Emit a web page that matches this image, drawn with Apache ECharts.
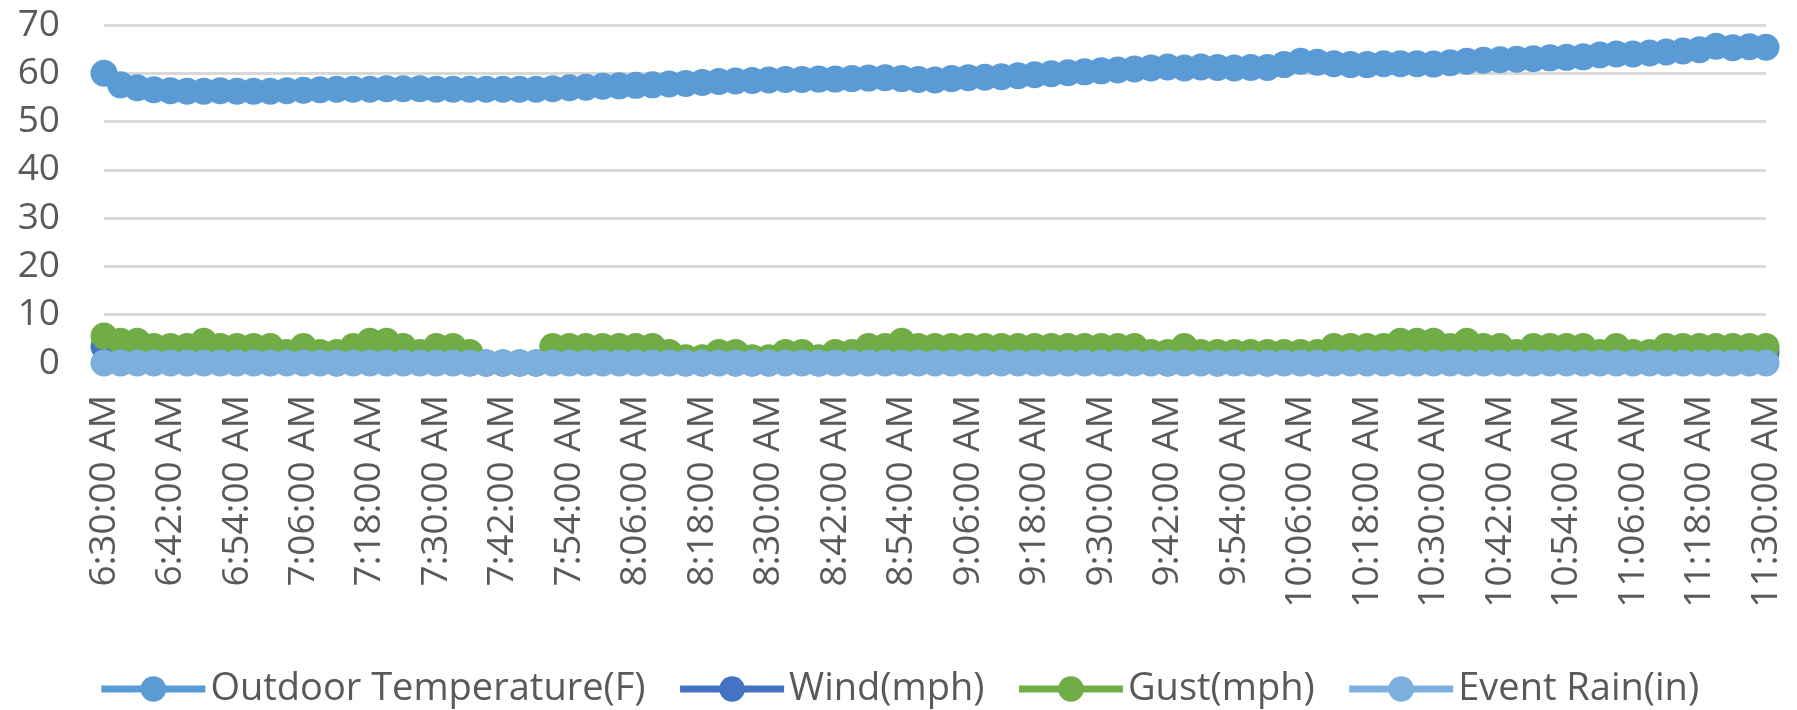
<!DOCTYPE html>
<html>
<head>
<meta charset="utf-8">
<script src="https://cdn.jsdelivr.net/npm/echarts@6/dist/echarts.min.js"></script>
<style>
html,body{margin:0;padding:0;background:#fff;}
#chart{width:1797px;height:710px;}
</style>
</head>
<body>
<div id="chart"></div>
<script>
const times = [
'6:30:00 AM','6:33:00 AM','6:36:00 AM','6:39:00 AM','6:42:00 AM','6:45:00 AM','6:48:00 AM','6:51:00 AM','6:54:00 AM','6:57:00 AM',
'7:00:00 AM','7:03:00 AM','7:06:00 AM','7:09:00 AM','7:12:00 AM','7:15:00 AM','7:18:00 AM','7:21:00 AM','7:24:00 AM','7:27:00 AM',
'7:30:00 AM','7:33:00 AM','7:36:00 AM','7:39:00 AM','7:42:00 AM','7:45:00 AM','7:48:00 AM','7:51:00 AM','7:54:00 AM','7:57:00 AM',
'8:00:00 AM','8:03:00 AM','8:06:00 AM','8:09:00 AM','8:12:00 AM','8:15:00 AM','8:18:00 AM','8:21:00 AM','8:24:00 AM','8:27:00 AM',
'8:30:00 AM','8:33:00 AM','8:36:00 AM','8:39:00 AM','8:42:00 AM','8:45:00 AM','8:48:00 AM','8:51:00 AM','8:54:00 AM','8:57:00 AM',
'9:00:00 AM','9:03:00 AM','9:06:00 AM','9:09:00 AM','9:12:00 AM','9:15:00 AM','9:18:00 AM','9:21:00 AM','9:24:00 AM','9:27:00 AM',
'9:30:00 AM','9:33:00 AM','9:36:00 AM','9:39:00 AM','9:42:00 AM','9:45:00 AM','9:48:00 AM','9:51:00 AM','9:54:00 AM','9:57:00 AM',
'10:00:00 AM','10:03:00 AM','10:06:00 AM','10:09:00 AM','10:12:00 AM','10:15:00 AM','10:18:00 AM','10:21:00 AM','10:24:00 AM','10:27:00 AM',
'10:30:00 AM','10:33:00 AM','10:36:00 AM','10:39:00 AM','10:42:00 AM','10:45:00 AM','10:48:00 AM','10:51:00 AM','10:54:00 AM','10:57:00 AM',
'11:00:00 AM','11:03:00 AM','11:06:00 AM','11:09:00 AM','11:12:00 AM','11:15:00 AM','11:18:00 AM','11:21:00 AM','11:24:00 AM','11:27:00 AM',
'11:30:00 AM'
];

const temperature = [
60.0,57.6,57.0,56.6,56.4,56.3,56.3,56.4,56.3,56.3,
56.3,56.4,56.5,56.6,56.7,56.7,56.7,56.8,56.8,56.8,
56.7,56.7,56.7,56.7,56.7,56.7,56.7,56.8,57.0,57.1,
57.3,57.4,57.5,57.6,57.8,57.9,58.1,58.3,58.4,58.5,
58.6,58.7,58.7,58.8,58.8,58.9,59.0,59.1,58.9,58.7,
58.6,58.9,59.1,59.2,59.3,59.5,59.7,59.9,60.1,60.3,
60.5,60.7,60.9,61.1,61.3,61.1,61.3,61.2,61.1,61.2,
61.2,61.8,62.5,62.3,62.0,61.8,61.8,62.0,62.0,62.0,
61.9,62.2,62.5,62.7,62.8,62.9,63.0,63.2,63.3,63.4,
63.8,64.0,64.0,64.2,64.4,64.6,64.9,65.6,65.3,65.5,
65.4
];

const wind = [
3.4,2.2,2.2,1.1,2.2,1.1,2.2,1.1,1.1,2.2,
1.1,1.1,1.1,1.1,0,1.1,2.2,2.2,1.1,1.1,
1.1,1.1,0,0,0,0,0,1.1,1.1,2.2,
1.1,1.1,1.1,2.2,1.1,0,0,1.1,0,0,
0,1.1,1.1,0,1.1,1.1,1.1,2.2,2.2,1.1,
1.1,2.2,1.1,1.1,2.2,1.1,1.1,2.2,1.1,1.1,
2.2,1.1,1.1,1.1,0,1.1,1.1,0,1.1,1.1,
0,1.1,1.1,0,1.1,2.2,1.1,2.2,2.2,2.2,
2.2,1.1,2.2,1.1,2.2,1.1,1.1,2.2,1.1,2.2,
1.1,1.1,1.1,1.1,2.2,1.1,2.2,1.1,2.2,1.1,
2.2
];

const gust = [
5.6,4.5,4.5,3.4,3.4,3.4,4.5,3.4,3.4,3.4,
3.4,2.2,3.4,2.2,2.2,3.4,4.5,4.5,3.4,2.2,
3.4,3.4,2.2,0,0,0,0,3.4,3.4,3.4,
3.4,3.4,3.4,3.4,2.2,1.1,1.1,2.2,2.2,1.1,
1.1,2.2,2.2,1.1,2.2,2.2,3.4,3.4,4.5,3.4,
3.4,3.4,3.4,3.4,3.4,3.4,3.4,3.4,3.4,3.4,
3.4,3.4,3.4,2.2,2.2,3.4,2.2,2.2,2.2,2.2,
2.2,2.2,2.2,2.2,3.4,3.4,3.4,3.4,4.5,4.5,
4.5,3.4,4.5,3.4,3.4,2.2,3.4,3.4,3.4,3.4,
2.2,3.4,2.2,2.2,3.4,3.4,3.4,3.4,3.4,3.4,
3.4
];

const eventRain = [
0,0,0,0,0,0,0,0,0,0,
0,0,0,0,0,0,0,0,0,0,
0,0,0,0,0,0,0,0,0,0,
0,0,0,0,0,0,0,0,0,0,
0,0,0,0,0,0,0,0,0,0,
0,0,0,0,0,0,0,0,0,0,
0,0,0,0,0,0,0,0,0,0,
0,0,0,0,0,0,0,0,0,0,
0,0,0,0,0,0,0,0,0,0,
0,0,0,0,0,0,0,0,0,0,
0
];

const seriesNames = ['Outdoor Temperature(F)','Wind(mph)','Gust(mph)','Event Rain(in)'];
const yTicks = { min: 0, max: 70, interval: 10 };

const colors = ['#5B9BD5','#4472C4','#70AD47','#7DAFDE'];
const FONT = 'Open Sans';
const TXT = '#595959';

const chart = echarts.init(document.getElementById('chart'), null, {renderer:'canvas'});

function mk(name, data, color){
  return {
    name: name, type: 'line', data: data,
    symbol: 'circle', symbolSize: 27, showAllSymbol: true,
    lineStyle: { width: 6, color: color },
    itemStyle: { color: color },
    emphasis: { disabled: true },
    animation: false
  };
}

chart.setOption({
  animation: false,
  color: colors,
  grid: { left: 104, right: 31, top: 25, bottom: 347, containLabel: false },
  legend: {
    data: seriesNames,
    top: 665,
    left: 'center',
    itemWidth: 104,
    itemHeight: 32,
    itemGap: 31,
    lineStyle: { width: 7 },
    textStyle: { fontFamily: FONT, fontSize: 38, color: TXT }
  },
  xAxis: {
    type: 'category',
    data: times,
    boundaryGap: false,
    axisLine: { show: true, lineStyle: { color: '#D9D9D9', width: 3 } },
    axisTick: { show: false },
    axisLabel: {
      interval: 3, rotate: 90, margin: 32,
      fontFamily: FONT, fontSize: 37, color: TXT
    },
    splitLine: { show: false }
  },
  yAxis: {
    type: 'value',
    min: yTicks.min, max: yTicks.max, interval: yTicks.interval,
    axisLine: { show: false },
    axisTick: { show: false },
    axisLabel: { margin: 44, fontFamily: FONT, fontSize: 37, color: TXT },
    splitLine: { lineStyle: { color: '#D9D9D9', width: 3 } }
  },
  series: [
    mk(seriesNames[0], temperature, colors[0]),
    mk(seriesNames[1], wind, colors[1]),
    mk(seriesNames[2], gust, colors[2]),
    mk(seriesNames[3], eventRain, colors[3])
  ]
});
</script>
</body>
</html>
